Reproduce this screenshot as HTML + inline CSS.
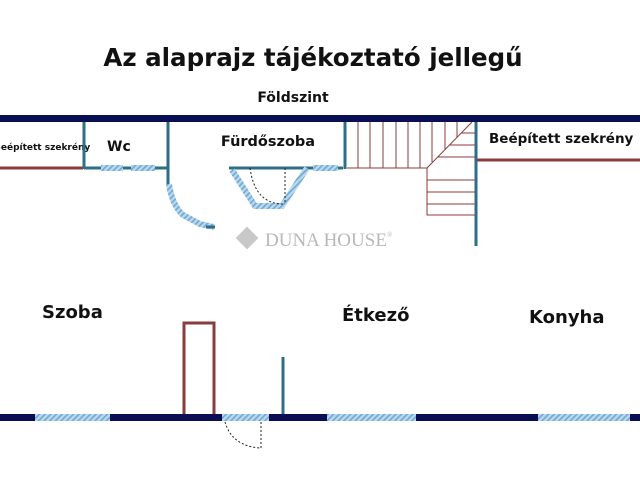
<!DOCTYPE html>
<html><head><meta charset="utf-8"><style>
body{margin:0;background:#fff;width:640px;height:480px;overflow:hidden}
svg{display:block}
text{font-family:"DejaVu Sans", "Liberation Sans", sans-serif;font-weight:bold;fill:#111}
</style></head><body>
<svg width="640" height="480" viewBox="0 0 640 480" xmlns="http://www.w3.org/2000/svg">
<defs>
<pattern id="h" width="4" height="4" patternUnits="userSpaceOnUse" patternTransform="rotate(45)">
<rect width="4" height="4" fill="#b9d8ee"/><rect width="1.6" height="4" fill="#6fa9d3"/>
</pattern>
</defs>
<text x="313" y="66" text-anchor="middle" font-size="24.5">Az alaprajz tájékoztató jellegű</text>
<text x="293" y="102" text-anchor="middle" font-size="14">Földszint</text>
<rect x="0" y="115" width="640" height="7" fill="#0a0f55"/>
<line x1="0" y1="168" x2="83" y2="168" stroke="#8b3b3b" stroke-width="3"/>
<text x="-6" y="150" font-size="9">Beépített szekrény</text>
<g stroke="#2e6e86" stroke-width="3" fill="none">
<line x1="84" y1="122" x2="84" y2="169"/>
<line x1="168" y1="122" x2="168" y2="185"/>
<line x1="84" y1="168" x2="168" y2="168"/>
<line x1="229" y1="168" x2="343" y2="168"/>
<line x1="345" y1="122" x2="345" y2="169"/>
<line x1="476" y1="122" x2="476" y2="246"/>
<line x1="283" y1="357" x2="283" y2="416"/>
</g>
<rect x="101" y="165" width="22" height="6" fill="url(#h)"/>
<rect x="131" y="165" width="24" height="6" fill="url(#h)"/>
<text x="107" y="151" font-size="14">Wc</text>
<path d="M169 184 Q172 205 183 215 L200 224 L214 227" stroke="url(#h)" stroke-width="6" fill="none"/>
<line x1="206" y1="227" x2="215" y2="227" stroke="#2e6e86" stroke-width="3"/>
<text x="268" y="146" text-anchor="middle" font-size="14.5">Fürdőszoba</text>
<path d="M232 170 L255 206 L282 206 L307 168" stroke="url(#h)" stroke-width="6" fill="none"/>
<rect x="313" y="165" width="25" height="6" fill="url(#h)"/>
<path d="M250 168 Q255 205 285 204 M285 168 L285 204" stroke="#222" stroke-width="1" stroke-dasharray="2,2" fill="none"/>
<g stroke="#8b3b3b" stroke-width="1" fill="none">
<path d="M347 168 L427 168 L427 215 L475 215"/>
<path d="M427 168 L472 122"/>
<line x1="358" y1="122" x2="358" y2="168"/><line x1="370" y1="122" x2="370" y2="168"/>
<line x1="383" y1="122" x2="383" y2="168"/><line x1="396" y1="122" x2="396" y2="168"/>
<line x1="408" y1="122" x2="408" y2="168"/><line x1="420" y1="122" x2="420" y2="168"/>
<line x1="432" y1="122" x2="432" y2="162"/><line x1="445" y1="122" x2="445" y2="149"/>
<line x1="457" y1="122" x2="457" y2="137"/>
<line x1="438" y1="157" x2="475" y2="157"/><line x1="450" y1="145" x2="475" y2="145"/>
<line x1="461" y1="133" x2="475" y2="133"/>
<line x1="427" y1="180" x2="475" y2="180"/><line x1="427" y1="192" x2="475" y2="192"/>
<line x1="427" y1="204" x2="475" y2="204"/>
</g>
<line x1="477" y1="160" x2="640" y2="160" stroke="#8b3b3b" stroke-width="3"/>
<text x="489" y="143" font-size="13.5">Beépített szekrény</text>
<rect x="239" y="230" width="16" height="16" fill="#c8c8c8" transform="rotate(45 247 238)"/>
<text x="265" y="246" font-size="19" style="fill:#b8b8b8;font-family:'Liberation Serif',serif;font-weight:normal">DUNA HOUSE<tspan font-size="7" dy="-9">®</tspan></text>
<text x="42" y="318" font-size="18">Szoba</text>
<text x="342" y="321" font-size="18">Étkező</text>
<text x="529" y="323" font-size="18">Konyha</text>
<path d="M184 415 L184 323 L214 323 L214 415" stroke="#8b3b3b" stroke-width="3" fill="none"/>
<rect x="0" y="414" width="640" height="7" fill="#0a0f55"/>
<rect x="35" y="414" width="75" height="7" fill="url(#h)"/>
<rect x="222" y="414" width="47" height="7" fill="url(#h)"/>
<rect x="327" y="414" width="89" height="7" fill="url(#h)"/>
<rect x="538" y="414" width="92" height="7" fill="url(#h)"/>
<path d="M225 422 Q232 446 260 448 M261 422 L261 448" stroke="#222" stroke-width="1" stroke-dasharray="2,2" fill="none"/>
</svg>
</body></html>
